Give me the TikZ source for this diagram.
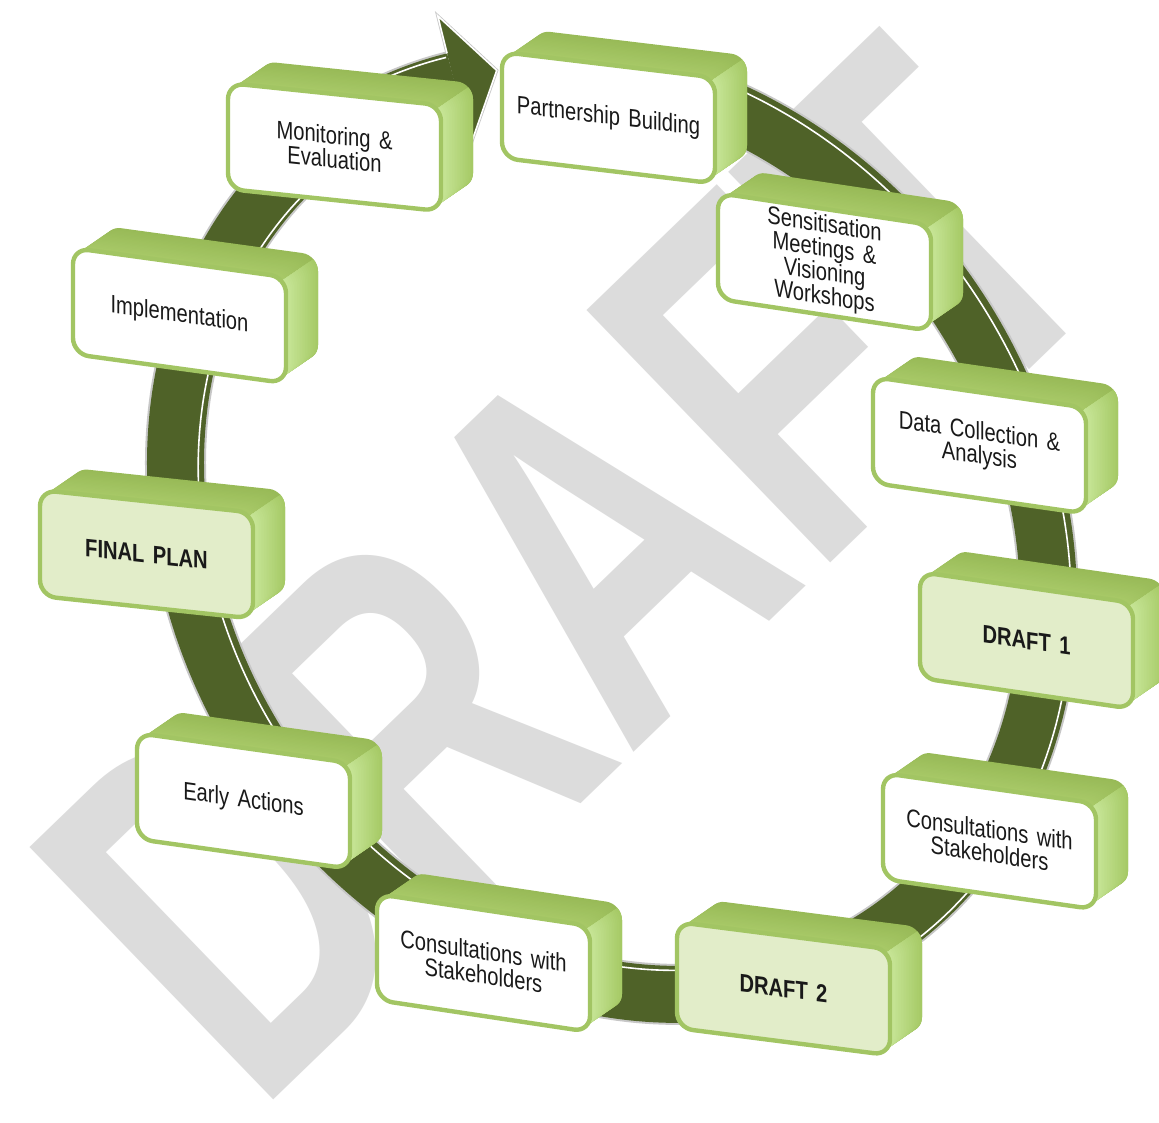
\documentclass[tikz,border=0pt]{standalone}
\usepackage{fontspec}
\setmainfont{Liberation Sans}[FakeStretch=0.8,WordSpace=1.5]
\newfontfamily\wmfont{Liberation Sans}
\definecolor{ringgreen}{HTML}{4F6228}
\definecolor{rimgreen}{HTML}{A2C563}
\definecolor{topA}{HTML}{A9CA69}
\definecolor{topB}{HTML}{98BA57}
\definecolor{sideA}{HTML}{C9E79A}
\definecolor{sideB}{HTML}{A6CA66}
\definecolor{paleface}{HTML}{E2EDC9}
\definecolor{wmgray}{HTML}{DCDCDC}
\tikzset{
  ringarc/.style n args={3}{insert path={plot[domain=#1:#2,samples=160,smooth] ({612+#3*(434*cos(\x)+47*sin(\x))},{532+#3*(18.8*cos(\x)+462*sin(\x))})}},
  boxtext/.style={align=center,font=\fontsize{12.6pt}{12pt}\selectfont,text=black!90,inner sep=0pt,transform shape},
  frontface/.style={draw=rimgreen,line width=2.2pt,rounded corners=8pt},
  hilite/.style={white,line width=0.8pt},
  halo/.style={black!22}
}
\newcommand{\cyclebox}[6]{%
\begin{scope}[shift={(#2,#3)},yslant=-#4]
  \pgfmathsetmacro{\ddy}{-22-#4*32}
  \foreach \t in {20,19,...,0}{%
    \pgfmathsetmacro{\pc}{100-5*\t}%
    \fill[topA!\pc!topB,rounded corners=8pt] ({\t*1.6},{\t*\ddy/20}) rectangle ++(213,106);
  }
  \begin{scope}
    \clip (197,4.7) -- (208.3,4.7) -- ++(96,{3*\ddy}) -- (300,200) -- (197,200) -- cycle;
    \foreach \t in {20,19,...,0}{%
      \pgfmathsetmacro{\pc}{100-5*\t}%
      \fill[sideA!\pc!sideB,rounded corners=8pt] ({\t*1.6},{\t*\ddy/20}) rectangle ++(213,106);
    }
  \end{scope}
  \filldraw[fill=#5,frontface] (0,0) rectangle (213,106);
  \node[boxtext] (#1) at (106.5,53) {#6};
\end{scope}}
\begin{document}
\begin{tikzpicture}[x=0.5pt,y=-0.5pt]
\useasboundingbox (0,0) rectangle (1159,1122);
\fill[white] (0,0) rectangle (1159,1122);
\clip (0,0) rectangle (1159,1122);
% watermark
\node[rotate=44,xscale=0.70,text=wmgray,font=\wmfont\bfseries\fontsize{255pt}{255pt}\selectfont,inner sep=0pt] (wm) at (570,570) {DRAFT};
% ring
\draw[halo,line width=30.5pt,ringarc={285}{615}{1}];
\draw[ringgreen,line width=28.5pt,ringarc={285}{615}{1}];
\draw[hilite,ringarc={285}{425}{1.052}];
\draw[hilite,ringarc={425}{590}{0.948}];
\draw[hilite,ringarc={590}{615}{1.052}];
% arrow head
\coordinate (hbo) at (447.1,53.4);
\coordinate (hb1) at (437.8,16.0);
\coordinate (tip) at (496.7,70.4);
\coordinate (hb2) at (470.2,146);
\coordinate (hbi) at (460.9,108.6);
\draw[halo,line width=1.6pt,line join=miter] (hbo) -- (hb1) -- (tip) -- (hb2) -- (hbi);
\fill[ringgreen] (hb1) -- (tip) -- (hb2) -- cycle;
\draw[hilite] (hbo) -- (hb1) -- (tip) -- (hb2) -- (hbi);
% boxes
\cyclebox{part}{502}{52}{0.12}{white}{Partnership Building}
\cyclebox{sens}{718}{193}{0.15}{white}{Sensitisation\\Meetings \&\\Visioning\\Workshops}
\cyclebox{data}{873}{377}{0.144}{white}{Data Collection \&\\Analysis}
\cyclebox{dft1}{920}{572}{0.145}{paleface}{\bfseries DRAFT 1}
\cyclebox{consr}{883}{773}{0.143}{white}{Consultations with\\Stakeholders}
\cyclebox{dft2}{677}{922}{0.128}{paleface}{\bfseries DRAFT 2}
\cyclebox{consb}{377}{894}{0.15}{white}{Consultations with\\Stakeholders}
\cyclebox{early}{137}{733}{0.14}{white}{Early Actions}
\cyclebox{final}{40}{490}{0.106}{paleface}{\bfseries FINAL PLAN}
\cyclebox{impl}{73}{248}{0.137}{white}{Implementation}
\cyclebox{mon}{228}{83}{0.104}{white}{Monitoring \&\\Evaluation}
\end{tikzpicture}
\end{document}
